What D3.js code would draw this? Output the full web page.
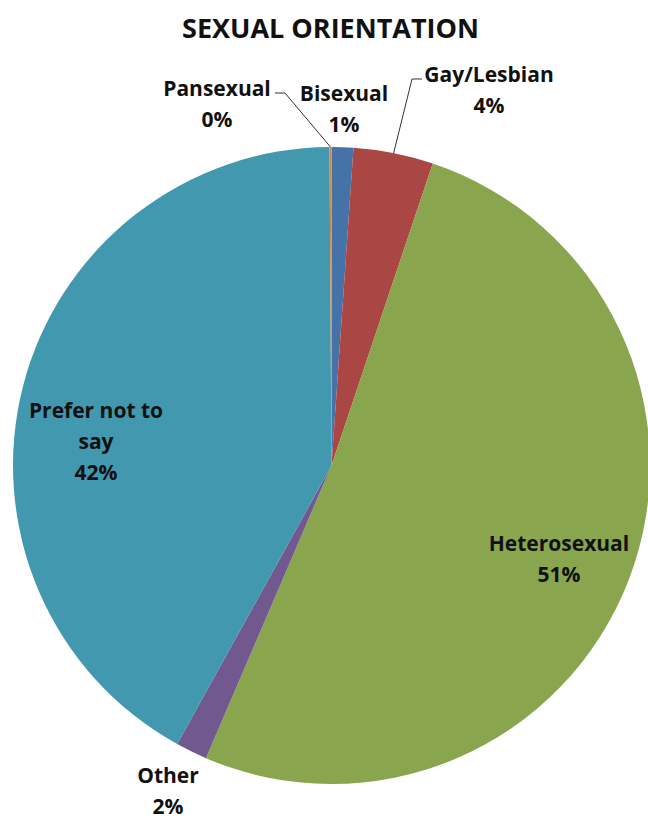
<!DOCTYPE html>
<html>
<head>
<meta charset="utf-8">
<script src="https://cdn.jsdelivr.net/npm/d3@7"></script>
<style>
  body { margin: 0; background: #fff; }
  text { font-family: "Open Sans", "Noto Sans", sans-serif; font-weight: bold; fill: #111; }
</style>
</head>
<body>
<div class="chart"></div>
<script>
// slices, clockwise from 12 o'clock
var categories = ["Bisexual", "Gay/Lesbian", "Heterosexual", "Other", "Prefer not to say", "Pansexual"];
var values = [1.1, 4.05, 51.3, 1.6, 41.85, 0.1];
var colors = ["#4572A7", "#AA4643", "#89A54E", "#71588F", "#4198AF", "#DB843D"];
// label text lines (category wrapped as in the original)
var labelLines = [["Bisexual"], ["Gay/Lesbian"], ["Heterosexual"], ["Other"], ["Prefer not to", "say"], ["Pansexual"]];

var width = 648, height = 821;
var cx = 331.5, cy = 465.5, radius = 318.5;

// where each label block sits (center x, first baseline y)
var labelPos = {
  "Bisexual": [344, 101],
  "Gay/Lesbian": [489, 82],
  "Heterosexual": [559, 551],
  "Other": [168, 783],
  "Prefer not to say": [96, 418],
  "Pansexual": [217, 96]
};
// leader lines: start point next to the label
var leaders = {
  "Pansexual": [[275, 93], [285, 93]],
  "Gay/Lesbian": [[422, 79], [412, 79]]
};

var data = categories.map(function(c, i){ return {name: c, value: values[i], color: colors[i], lines: labelLines[i]}; });
var total = d3.sum(values);
var pct = function(v){ return Math.round(v / total * 100) + "%"; };

var svg = d3.select(".chart").append("svg")
  .attr("width", width)
  .attr("height", height);

svg.append("text")
  .attr("x", 330.5)
  .attr("y", 38)
  .attr("text-anchor", "middle")
  .style("font-size", "27px")
  .text("SEXUAL ORIENTATION");

var pie = d3.pie().sort(null).value(function(d){ return d.value; });
var arc = d3.arc().innerRadius(0).outerRadius(radius);
var arcs = pie(data);

var g = svg.append("g").attr("transform", "translate(" + cx + "," + cy + ")");
g.selectAll("path")
  .data(arcs)
  .enter()
  .append("path")
  .attr("d", arc)
  .attr("fill", function(d){ return d.data.color; });

// leader lines to the outer edge of the slice
var edge = d3.arc().innerRadius(radius).outerRadius(radius);
arcs.forEach(function(a){
  var pts = leaders[a.data.name];
  if(!pts) return;
  var c = edge.centroid(a);
  var line = pts.concat([[c[0] + cx, c[1] + cy]]);
  svg.append("path")
    .attr("d", d3.line()(line))
    .attr("fill", "none")
    .attr("stroke", "#333")
    .attr("stroke-width", 1);
});

// labels
var lineH = 31;
arcs.forEach(function(a){
  var p = labelPos[a.data.name];
  var t = svg.append("text")
    .attr("text-anchor", "middle")
    .style("font-size", "21px");
  var lines = a.data.lines.concat([pct(a.data.value)]);
  lines.forEach(function(s, i){
    t.append("tspan")
      .attr("x", p[0])
      .attr("y", p[1] + i * lineH)
      .text(s);
  });
});
</script>
</body>
</html>
